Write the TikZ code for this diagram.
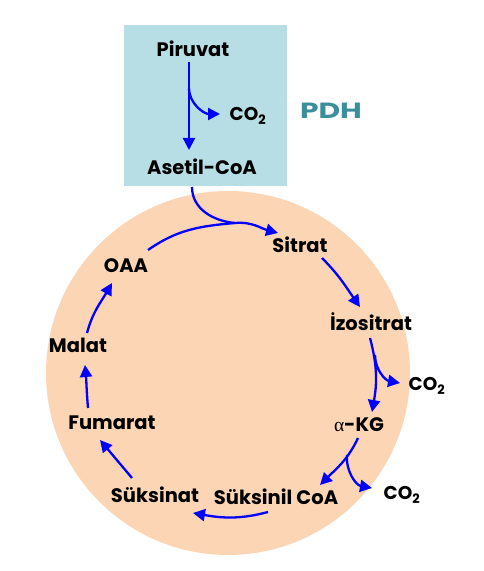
\documentclass[tikz,border=0pt]{standalone}
\usepackage{fontspec}
\setmainfont{Poppins}
\newfontfamily\greekfont{Liberation Serif}
\usepackage{tikz}
\usetikzlibrary{positioning, arrows.meta}
\definecolor{BoxBlue}{HTML}{B7DEE4}
\definecolor{CyclePeach}{HTML}{FBD5B4}
\definecolor{PdhTeal}{HTML}{3B8F9A}
\definecolor{ArrowBlue}{HTML}{0000FF}

\begin{document}
\begin{tikzpicture}[
            x=1pt, y=1pt,
            met/.style={font=\bfseries\fontsize{19.5}{21}\selectfont, inner sep=1pt},
            gas/.style={font=\bfseries\fontsize{18.5}{20}\selectfont, inner sep=1pt},
            enzyme/.style={font=\bfseries\fontsize{22}{24}\selectfont, text=PdhTeal, xscale=1.35, transform shape},
            arrow/.style={-{Triangle[length=12pt, width=12pt]}, line width=2.3pt, ArrowBlue},
            link/.style={line width=2.3pt, ArrowBlue}
        ]
            \useasboundingbox (0,0) rectangle (484,571);
            
            \fill[CyclePeach] (228,198) circle[radius=182pt];
            \fill[BoxBlue] (124,385) rectangle (287,546);
            
            \node[met] (piruvat) at (193,522) {Piruvat};
            \node[gas] (co2a) at (248,455) {CO\textsubscript{2}};
            \node[enzyme] (pdh) at (331,460) {PDH};
            \node[met] (asetil) at (202,404) {Asetil-CoA};
            
            \node[met] (sitrat) at (300,326) {Sitrat};
            \node[met] (izo) at (371,249) {İzositrat};
            \node[gas] (co2b) at (427,185) {CO\textsubscript{2}};
            \node[met] (akg) at (359,146) {{\greekfont\mdseries α}-KG};
            \node[met] (sukcoa) at (276,74) {Süksinil CoA};
            \node[gas] (co2c) at (402,76) {CO\textsubscript{2}};
            \node[met] (suksinat) at (155,76) {Süksinat};
            \node[met] (fumarat) at (112,148) {Fumarat};
            \node[met] (malat) at (78,226) {Malat};
            \node[met] (oaa) at (126,305) {OAA};
            
            \coordinate (b1) at (189,483);
            \coordinate (j) at (235,348);
            \coordinate (b2) at (375,216);
            \coordinate (b3) at (347,116);
            
            \draw[arrow] ([shift={(-4,-13)}]piruvat.center) -- ([shift={(-13,17)}]asetil.center);
            \draw[arrow] (b1) to[out=-90, in=180] ([shift={(-28,2)}]co2a.center);
            
            \draw[link] ([shift={(-10,-20)}]asetil.center) to[out=-90, in=175] (j);
            \draw[arrow] ([shift={(22,16)}]oaa.center) to[out=35, in=185] (j) to[out=5, in=165] ([shift={(-22,12)}]sitrat.center);
            \draw[arrow] ([shift={(22,-13)}]sitrat.center) to[out=-45, in=125] ([shift={(-11,15)}]izo.center);
            \draw[arrow] ([shift={(-1,-16)}]izo.center) to[out=-75, in=80] ([shift={(13,13)}]akg.center);
            \draw[arrow] (b2) to[out=-90, in=170] ([shift={(-27,3)}]co2b.center);
            \draw[arrow] ([shift={(-1,-13)}]akg.center) to[out=-115, in=45] ([shift={(44,12)}]sukcoa.center);
            \draw[arrow] (b3) to[out=-95, in=170] ([shift={(-30,7)}]co2c.center);
            \draw[arrow] ([shift={(-8,-15)}]sukcoa.center) to[out=195, in=-10] ([shift={(38,-18)}]suksinat.center);
            \draw[arrow] ([shift={(-23,17)}]suksinat.center) -- ([shift={(-12,-17)}]fumarat.center);
            \draw[arrow] ([shift={(-24,15)}]fumarat.center) to[out=95, in=-85] ([shift={(7,-20)}]malat.center);
            \draw[arrow] ([shift={(9,12)}]malat.center) to[out=75, in=-120] ([shift={(-14,-17)}]oaa.center);
            
        \end{tikzpicture}
\end{document}
